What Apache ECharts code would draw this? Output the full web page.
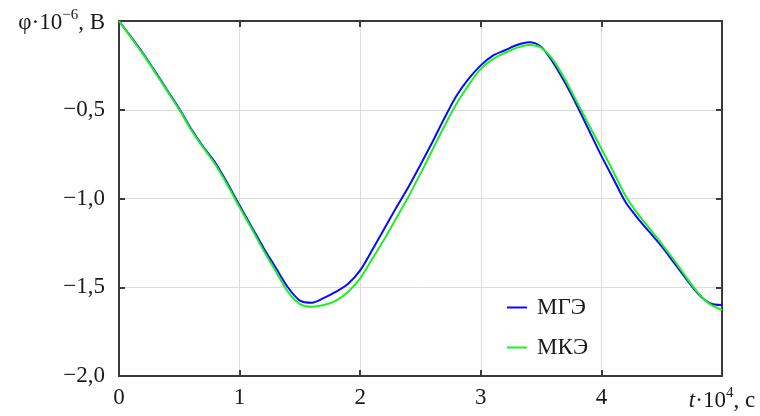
<!DOCTYPE html>
<html>
<head>
<meta charset="utf-8">
<script src="https://cdn.jsdelivr.net/npm/echarts@6/dist/echarts.min.js"></script>
<style>
  html, body { margin: 0; padding: 0; background: #fff; }
  #chart { width: 760px; height: 416px; }
</style>
</head>
<body>
<div id="chart"></div>
<script>
// время t*10^4, с
var times = [0, 0.1, 0.2, 0.3, 0.4, 0.5, 0.6, 0.7, 0.8, 0.9,
  1.0, 1.1, 1.2, 1.3, 1.4, 1.5, 1.6, 1.7, 1.8, 1.9,
  2.0, 2.1, 2.2, 2.3, 2.4, 2.5, 2.6, 2.7, 2.8, 2.9,
  3.0, 3.1, 3.2, 3.3, 3.4, 3.5, 3.6, 3.7, 3.8, 3.9,
  4.0, 4.1, 4.2, 4.3, 4.4, 4.5, 4.6, 4.7, 4.8, 4.9, 5.0];
// МГЭ
var mge = [0, -0.09, -0.183, -0.285, -0.39, -0.495, -0.61, -0.71, -0.80, -0.915,
  -1.04, -1.16, -1.28, -1.39, -1.50, -1.575, -1.587, -1.56, -1.525, -1.48,
  -1.405, -1.29, -1.17, -1.05, -0.935, -0.81, -0.68, -0.545, -0.42, -0.325,
  -0.25, -0.195, -0.165, -0.135, -0.12, -0.145, -0.235, -0.35, -0.48, -0.62,
  -0.76, -0.89, -1.02, -1.11, -1.19, -1.27, -1.36, -1.45, -1.535, -1.59, -1.60];
// МКЭ
var mke = [0, -0.093, -0.188, -0.29, -0.395, -0.50, -0.615, -0.715, -0.81, -0.925,
  -1.05, -1.17, -1.295, -1.41, -1.525, -1.595, -1.61, -1.60, -1.575, -1.525,
  -1.45, -1.34, -1.23, -1.11, -0.99, -0.86, -0.725, -0.59, -0.465, -0.36,
  -0.27, -0.215, -0.18, -0.15, -0.135, -0.15, -0.22, -0.33, -0.46, -0.59,
  -0.72, -0.85, -0.985, -1.085, -1.17, -1.255, -1.345, -1.44, -1.53, -1.595, -1.628];
var seriesNames = ['МГЭ', 'МКЭ'];
var xTicks = [0, 1, 2, 3, 4, 5];
var yTicks = [-2.0, -1.5, -1.0, -0.5, 0];

var myChart = echarts.init(document.getElementById('chart'));
var font = '"Liberation Serif", "DejaVu Serif", serif';
var axisColor = '#3a3a3a';
var textColor = '#1a1a1a';

function pairs(vals) {
  return times.map(function (t, i) { return [t, vals[i]]; });
}

// надстрочные индексы через rich text
var rich = {
  b: { fontSize: 23, fontFamily: font, color: textColor, lineHeight: 26, verticalAlign: 'bottom' },
  i: { fontSize: 23, fontFamily: font, color: textColor, fontStyle: 'italic', lineHeight: 26, verticalAlign: 'bottom' },
  sup: { fontSize: 15, fontFamily: font, color: textColor, lineHeight: 26, verticalAlign: 'top' }
};

var option = {
  animation: false,
  textStyle: { fontFamily: font },
  grid: { left: 119, top: 21, right: 38, bottom: 40, containLabel: false },
  legend: {
    data: seriesNames,
    orient: 'vertical',
    left: 502,
    top: 291,
    itemGap: 17,
    itemWidth: 20,
    itemHeight: 2,
    icon: 'rect',
    textStyle: { fontFamily: font, fontSize: 23, color: textColor, padding: [0, 0, 0, 5] }
  },
  xAxis: [{
    type: 'value',
    min: 0, max: 5, interval: 1,
    axisLine: { show: true, onZero: false, lineStyle: { color: axisColor, width: 2 } },
    axisTick: { show: true, inside: true, length: 6, lineStyle: { color: axisColor, width: 2 } },
    splitLine: { show: true, lineStyle: { color: '#dcdcdc', width: 1 } },
    axisLabel: {
      margin: 10,
      fontSize: 23,
      color: textColor,
      fontFamily: font,
      formatter: function (v) {
        if (v === 5) return '{i|t}{b|·10}{sup|4}{b|, с}';
        return xTicks.indexOf(v) >= 0 ? String(v) : '';
      },
      rich: rich
    }
  }, {
    type: 'value',
    position: 'top',
    min: 0, max: 5, interval: 1,
    axisLine: { show: true, onZero: false, lineStyle: { color: axisColor, width: 2 } },
    axisTick: { show: true, inside: true, length: 6, lineStyle: { color: axisColor, width: 2 } },
    splitLine: { show: false },
    axisLabel: { show: false }
  }],
  yAxis: [{
    type: 'value',
    min: -2, max: 0, interval: 0.5,
    axisLine: { show: true, onZero: false, lineStyle: { color: axisColor, width: 2 } },
    axisTick: { show: true, inside: true, length: 6, lineStyle: { color: axisColor, width: 2 } },
    splitLine: { show: true, lineStyle: { color: '#dcdcdc', width: 1 } },
    axisLabel: {
      margin: 14,
      fontSize: 23,
      color: textColor,
      fontFamily: font,
      formatter: function (v) {
        if (v === 0) return '{b|φ·10}{sup|−6}{b|, В}';
        return v.toFixed(1).replace('.', ',').replace('-', '−');
      },
      rich: rich
    }
  }, {
    type: 'value',
    position: 'right',
    min: -2, max: 0, interval: 0.5,
    axisLine: { show: true, onZero: false, lineStyle: { color: axisColor, width: 2 } },
    axisTick: { show: true, inside: true, length: 6, lineStyle: { color: axisColor, width: 2 } },
    splitLine: { show: false },
    axisLabel: { show: false }
  }],
  series: [{
    name: seriesNames[0],
    type: 'line',
    smooth: 0.3,
    showSymbol: false,
    data: pairs(mge),
    lineStyle: { color: '#0a0aff', width: 2 },
    itemStyle: { color: '#0a0aff' }
  }, {
    name: seriesNames[1],
    type: 'line',
    smooth: 0.3,
    showSymbol: false,
    data: pairs(mke),
    lineStyle: { color: '#1ef01e', width: 2 },
    itemStyle: { color: '#1ef01e' }
  }]
};
myChart.setOption(option);
</script>
</body>
</html>
